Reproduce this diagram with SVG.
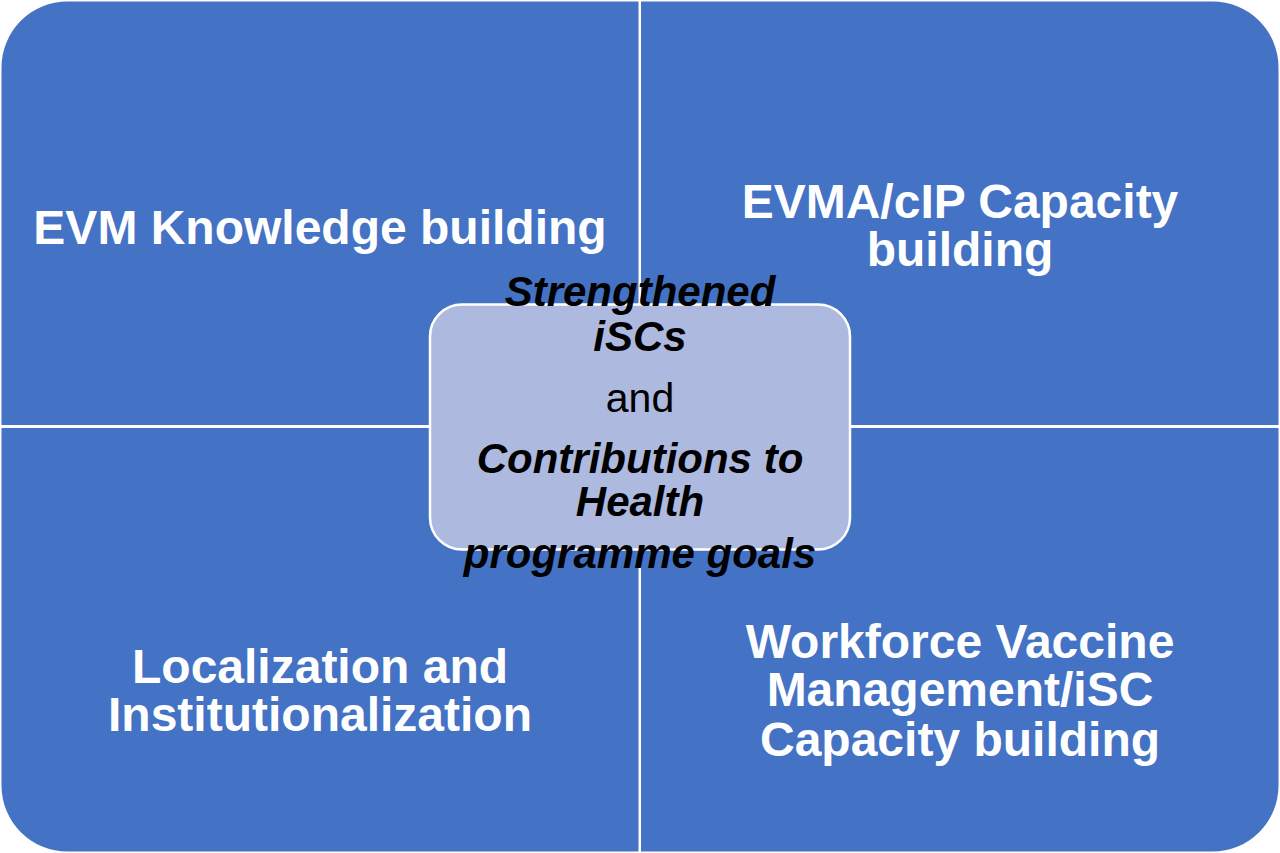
<svg xmlns="http://www.w3.org/2000/svg" width="1280" height="853" viewBox="0 0 1280 853">
  <style>
    .quad { fill: #4472C4; }
    .qt { font-family: "Liberation Sans", Arial, sans-serif; font-weight: bold; font-size: 48px; fill: #FFFFFF; text-anchor: middle; }
    .ct { font-family: "Liberation Sans", Arial, sans-serif; font-weight: bold; font-style: italic; font-size: 42px; fill: #000000; text-anchor: middle; }
    .cr { font-family: "Liberation Sans", Arial, sans-serif; font-size: 41px; fill: #000000; text-anchor: middle; }
  </style>
  <rect x="0" y="0" width="1280" height="853" fill="#FFFFFF"/>
  <g id="quadrant-tl">
    <path class="quad" d="M1.5,67.5 A66,66 0 0 1 67.5,1.5 H638.5 V425 H1.5 Z"/>
    <text class="qt" x="320" y="244">EVM Knowledge building</text>
  </g>
  <g id="quadrant-tr">
    <path class="quad" d="M641,1.5 H1212.5 A66,66 0 0 1 1278.5,67.5 V425 H641 Z"/>
    <text class="qt" x="960" y="218">EVMA/cIP Capacity</text>
    <text class="qt" x="960" y="266">building</text>
  </g>
  <g id="quadrant-bl">
    <path class="quad" d="M1.5,428 H638.5 V851.5 H67.5 A66,66 0 0 1 1.5,785.5 Z"/>
    <text class="qt" x="320" y="683">Localization and</text>
    <text class="qt" x="320" y="731">Institutionalization</text>
  </g>
  <g id="quadrant-br">
    <path class="quad" d="M641,428 H1278.5 V785.5 A66,66 0 0 1 1212.5,851.5 H641 Z"/>
    <text class="qt" x="960" y="658">Workforce Vaccine</text>
    <text class="qt" x="960" y="706">Management/iSC</text>
    <text class="qt" x="960" y="756">Capacity building</text>
  </g>
  <g id="center">
    <rect x="430" y="304.5" width="420" height="245" rx="32" ry="32" fill="#ADB9DF" stroke="#FFFFFF" stroke-width="2.5"/>
    <text class="ct" x="640" y="306">Strengthened</text>
    <text class="ct" x="640" y="351">iSCs</text>
    <text class="cr" x="640" y="412">and</text>
    <text class="ct" x="640" y="473">Contributions to</text>
    <text class="ct" x="640" y="516">Health</text>
    <text class="ct" x="640" y="568">programme goals</text>
  </g>
  <g id="connectors"></g>
</svg>
